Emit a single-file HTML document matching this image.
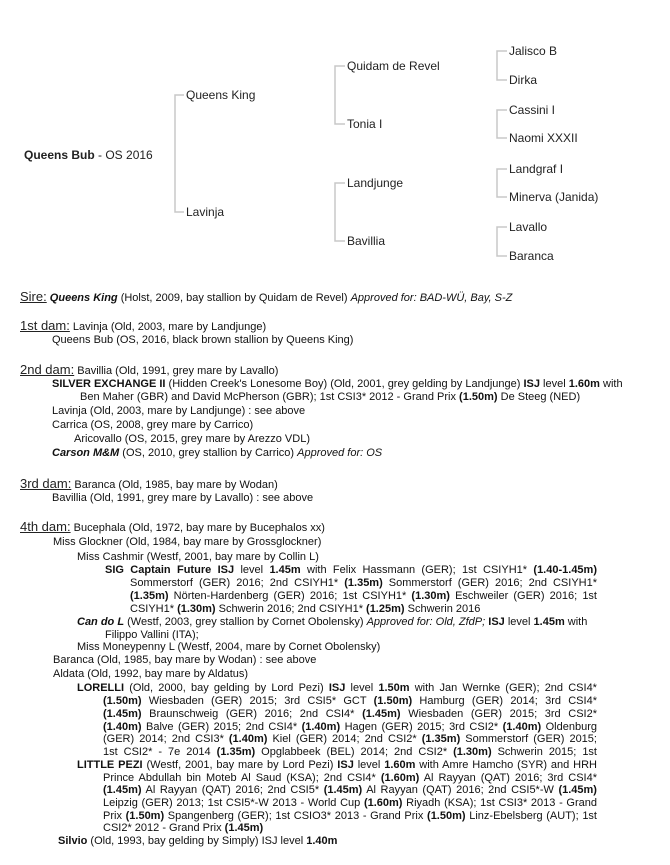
<!DOCTYPE html>
<html><head><meta charset="utf-8">
<style>
body{margin:0;background:#fff;width:670px;height:865px;overflow:hidden;position:relative;font-family:"Liberation Sans",Arial,sans-serif;color:#111;}
.l{position:absolute;white-space:nowrap;font-size:11px;line-height:14px;}
.j{position:absolute;font-size:11px;line-height:14px;text-align:justify;text-align-last:justify;white-space:nowrap;}
.j span.w{display:inline}
.h{font-size:13px;text-decoration:underline;color:#222;}
.t{position:absolute;font-size:12px;line-height:14px;color:#222;white-space:nowrap;}
</style></head><body>
<svg width="670" height="280" style="position:absolute;left:0;top:0" stroke="#c8c8c8" stroke-width="1.5" fill="none">
<path d="M184 95 H175 V212 H184"/>
<path d="M345 66 H335 V124 H345"/>
<path d="M345 183 H335 V241 H345"/>
<path d="M507 51 H497 V80 H507"/>
<path d="M507 110 H497 V138 H507"/>
<path d="M507 169 H497 V197 H507"/>
<path d="M507 227 H497 V256 H507"/>
</svg>
<div class="t" style="left:24px;top:148px"><b>Queens Bub</b> - OS 2016</div>
<div class="t" style="left:186px;top:88px">Queens King</div>
<div class="t" style="left:186px;top:205px">Lavinja</div>
<div class="t" style="left:347px;top:59px">Quidam de Revel</div>
<div class="t" style="left:347px;top:117px">Tonia I</div>
<div class="t" style="left:347px;top:176px">Landjunge</div>
<div class="t" style="left:347px;top:234px">Bavillia</div>
<div class="t" style="left:509px;top:44px">Jalisco B</div>
<div class="t" style="left:509px;top:73px">Dirka</div>
<div class="t" style="left:509px;top:103px">Cassini I</div>
<div class="t" style="left:509px;top:131px">Naomi XXXII</div>
<div class="t" style="left:509px;top:162px">Landgraf I</div>
<div class="t" style="left:509px;top:190px">Minerva (Janida)</div>
<div class="t" style="left:509px;top:220px">Lavallo</div>
<div class="t" style="left:509px;top:249px">Baranca</div>

<div class="l" style="left:20px;top:290px"><span class="h">Sire:</span> <b><i>Queens King</i></b> (Holst, 2009, bay stallion by Quidam de Revel) <i>Approved for: BAD-WÜ, Bay, S-Z</i></div>
<div class="l" style="left:20px;top:319px"><span class="h">1st dam:</span> Lavinja (Old, 2003, mare by Landjunge)</div>
<div class="l" style="left:52px;top:333px">Queens Bub (OS, 2016, black brown stallion by Queens King)</div>
<div class="l" style="left:20px;top:363px"><span class="h">2nd dam:</span> Bavillia (Old, 1991, grey mare by Lavallo)</div>
<div class="l" style="left:52px;top:377px"><b>SILVER EXCHANGE II</b> (Hidden Creek's Lonesome Boy) (Old, 2001, grey gelding by Landjunge) <b>ISJ</b> level <b>1.60m</b> with</div>
<div class="l" style="left:80px;top:390px">Ben Maher (GBR) and David McPherson (GBR); 1st CSI3* 2012 - Grand Prix <b>(1.50m)</b> De Steeg (NED)</div>
<div class="l" style="left:52px;top:404px">Lavinja (Old, 2003, mare by Landjunge) : see above</div>
<div class="l" style="left:52px;top:418px">Carrica (OS, 2008, grey mare by Carrico)</div>
<div class="l" style="left:74px;top:432px">Aricovallo (OS, 2015, grey mare by Arezzo VDL)</div>
<div class="l" style="left:52px;top:446px"><b><i>Carson M&amp;M</i></b> (OS, 2010, grey stallion by Carrico) <i>Approved for: OS</i></div>
<div class="l" style="left:20px;top:477px"><span class="h">3rd dam:</span> Baranca (Old, 1985, bay mare by Wodan)</div>
<div class="l" style="left:52px;top:491px">Bavillia (Old, 1991, grey mare by Lavallo) : see above</div>
<div class="l" style="left:20px;top:520px"><span class="h">4th dam:</span> Bucephala (Old, 1972, bay mare by Bucephalos xx)</div>
<div class="l" style="left:53px;top:535px">Miss Glockner (Old, 1984, bay mare by Grossglockner)</div>
<div class="l" style="left:77px;top:550px">Miss Cashmir (Westf, 2001, bay mare by Collin L)</div>
<div class="j" style="left:105px;top:563px;width:492px"><b>SIG Captain Future ISJ</b> level <b>1.45m</b> with Felix Hassmann (GER); 1st CSIYH1* <b>(1.40-1.45m)</b></div>
<div class="j" style="left:130px;top:576px;width:467px">Sommerstorf (GER) 2016; 2nd CSIYH1* <b>(1.35m)</b> Sommerstorf (GER) 2016; 2nd CSIYH1*</div>
<div class="j" style="left:130px;top:589px;width:467px"><b>(1.35m)</b> Nörten-Hardenberg (GER) 2016; 1st CSIYH1* <b>(1.30m)</b> Eschweiler (GER) 2016; 1st</div>
<div class="l" style="left:130px;top:602px">CSIYH1* <b>(1.30m)</b> Schwerin 2016; 2nd CSIYH1* <b>(1.25m)</b> Schwerin 2016</div>
<div class="l" style="left:77px;top:615px"><b><i>Can do L</i></b> (Westf, 2003, grey stallion by Cornet Obolensky) <i>Approved for: Old, ZfdP;</i> <b>ISJ</b> level <b>1.45m</b> with</div>
<div class="l" style="left:105px;top:628px">Filippo Vallini (ITA);</div>
<div class="l" style="left:77px;top:640px">Miss Moneypenny L (Westf, 2004, mare by Cornet Obolensky)</div>
<div class="l" style="left:53px;top:653px">Baranca (Old, 1985, bay mare by Wodan) : see above</div>
<div class="l" style="left:53px;top:667px">Aldata (Old, 1992, bay mare by Aldatus)</div>
<div class="j" style="left:77px;top:681px;width:520px"><b>LORELLI</b> (Old, 2000, bay gelding by Lord Pezi) <b>ISJ</b> level <b>1.50m</b> with Jan Wernke (GER); 2nd CSI4*</div>
<div class="j" style="left:103px;top:694px;width:494px"><b>(1.50m)</b> Wiesbaden (GER) 2015; 3rd CSI5* GCT <b>(1.50m)</b> Hamburg (GER) 2014; 3rd CSI4*</div>
<div class="j" style="left:103px;top:707px;width:494px"><b>(1.45m)</b> Braunschweig (GER) 2016; 2nd CSI4* <b>(1.45m)</b> Wiesbaden (GER) 2015; 3rd CSI2*</div>
<div class="j" style="left:103px;top:720px;width:494px"><b>(1.40m)</b> Balve (GER) 2015; 2nd CSI4* <b>(1.40m)</b> Hagen (GER) 2015; 3rd CSI2* <b>(1.40m)</b> Oldenburg</div>
<div class="j" style="left:103px;top:732px;width:494px">(GER) 2014; 2nd CSI3* <b>(1.40m)</b> Kiel (GER) 2014; 2nd CSI2* <b>(1.35m)</b> Sommerstorf (GER) 2015;</div>
<div class="j" style="left:103px;top:745px;width:494px">1st CSI2* - 7e 2014 <b>(1.35m)</b> Opglabbeek (BEL) 2014; 2nd CSI2* <b>(1.30m)</b> Schwerin 2015; 1st</div>
<div class="j" style="left:77px;top:758px;width:520px"><b>LITTLE PEZI</b> (Westf, 2001, bay mare by Lord Pezi) <b>ISJ</b> level <b>1.60m</b> with Amre Hamcho (SYR) and HRH</div>
<div class="j" style="left:103px;top:771px;width:494px">Prince Abdullah bin Moteb Al Saud (KSA); 2nd CSI4* <b>(1.60m)</b> Al Rayyan (QAT) 2016; 3rd CSI4*</div>
<div class="j" style="left:103px;top:783px;width:494px"><b>(1.45m)</b> Al Rayyan (QAT) 2016; 2nd CSI5* <b>(1.45m)</b> Al Rayyan (QAT) 2016; 2nd CSI5*-W <b>(1.45m)</b></div>
<div class="j" style="left:103px;top:796px;width:494px">Leipzig (GER) 2013; 1st CSI5*-W 2013 - World Cup <b>(1.60m)</b> Riyadh (KSA); 1st CSI3* 2013 - Grand</div>
<div class="j" style="left:103px;top:809px;width:494px">Prix <b>(1.50m)</b> Spangenberg (GER); 1st CSIO3* 2013 - Grand Prix <b>(1.50m)</b> Linz-Ebelsberg (AUT); 1st</div>
<div class="l" style="left:103px;top:821px">CSI2* 2012 - Grand Prix <b>(1.45m)</b></div>
<div class="l" style="left:58px;top:834px"><b>Silvio</b> (Old, 1993, bay gelding by Simply) ISJ level <b>1.40m</b></div>
</body></html>
